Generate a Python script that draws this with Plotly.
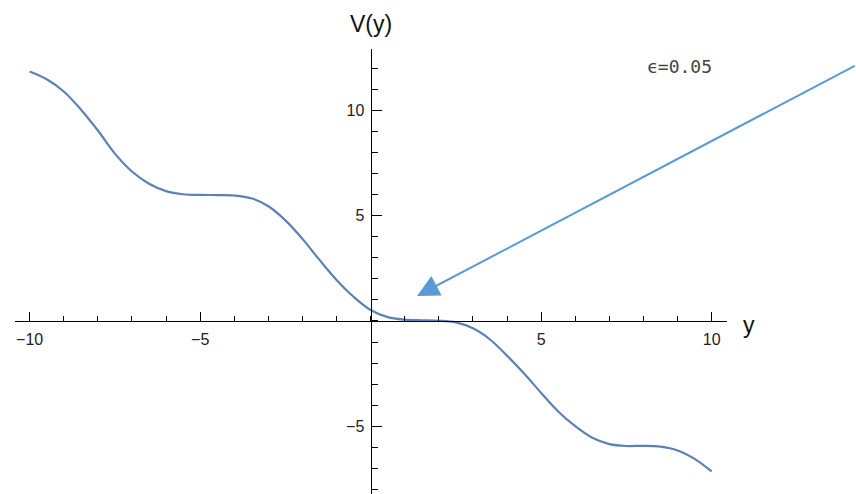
import plotly.graph_objects as go

# Data
y_vals = [-10.0, -9.5, -9.0, -8.5, -8.0, -7.5, -7.0, -6.5, -6.0, -5.5, -5.0,
          -4.5, -4.0, -3.5, -3.0, -2.5, -2.0, -1.5, -1.0, -0.5, 0.0,
          0.5, 1.0, 1.5, 2.0, 2.5, 3.0, 3.5, 4.0, 4.5, 5.0,
          5.5, 6.0, 6.5, 7.0, 7.5, 8.0, 8.5, 9.0, 9.5, 10.0]
V_vals = [11.85, 11.48, 10.9, 10.05, 9.05, 7.95, 7.1, 6.52, 6.17, 6.02, 5.99,
          5.98, 5.96, 5.83, 5.45, 4.78, 3.9, 2.9, 1.95, 1.15, 0.52,
          0.18, 0.06, 0.03, 0.01, -0.07, -0.35, -0.88, -1.65, -2.5, -3.42,
          -4.3, -5.0, -5.55, -5.85, -5.94, -5.93, -5.97, -6.15, -6.55, -7.15]

x_ticks = [-10, -5, 5, 10]
y_ticks = [-5, 5, 10]
label_text = "ϵ=0.05"

x_range = [-10.43, 10.45]
y_range = [-8.22, 12.92]


def px(v):
    return (v - x_range[0]) / (x_range[1] - x_range[0])


def py(v):
    return (v - y_range[0]) / (y_range[1] - y_range[0])


fig = go.Figure()
fig.add_trace(go.Scatter(
    x=y_vals, y=V_vals, mode="lines",
    line=dict(color="#5E81B5", width=2.2, shape="spline", smoothing=1.0),
    showlegend=False, hoverinfo="skip",
))

tick_font = dict(family="Liberation Sans, Arial, sans-serif", size=16, color="#222222")
label_font = dict(family="Liberation Sans, Arial, sans-serif", size=23, color="#111111")

fig.update_layout(
    width=856, height=494,
    margin=dict(l=15, r=129, t=49, b=0),
    paper_bgcolor="white", plot_bgcolor="white",
    xaxis=dict(
        range=x_range, anchor="free", position=py(0),
        showgrid=False, zeroline=False,
        showline=True, linecolor="black", linewidth=1.3,
        tickvals=x_ticks, ticks="inside", ticklen=9, tickwidth=1.2, tickcolor="black",
        tickfont=tick_font, ticklabelstandoff=4,
        minor=dict(dtick=1, tick0=0, ticks="inside", ticklen=5, tickwidth=1.1,
                   tickcolor="black", showgrid=False),
    ),
    yaxis=dict(
        range=y_range, anchor="free", position=px(0),
        showgrid=False, zeroline=False,
        showline=True, linecolor="black", linewidth=1.3,
        tickvals=y_ticks, ticks="inside", ticklen=10, tickwidth=1.2, tickcolor="black",
        tickfont=tick_font, ticklabelstandoff=3,
        minor=dict(dtick=1, tick0=0, ticks="inside", ticklen=6, tickwidth=1.1,
                   tickcolor="black", showgrid=False),
    ),
    annotations=[
        dict(x=px(0), y=py(14.1), xref="paper", yref="paper", text="V(y)", showarrow=False,
             font=label_font, xanchor="center", yanchor="middle"),
        dict(x=px(11.09), y=py(-0.2), xref="paper", yref="paper", text="y", showarrow=False,
             font=label_font, xanchor="center", yanchor="middle"),
        dict(x=px(9.07), y=py(12.11), xref="paper", yref="paper", text=label_text,
             showarrow=False,
             font=dict(family="DejaVu Sans Mono, monospace", size=18, color="#444444"),
             xanchor="center", yanchor="middle"),
        dict(x=1.36, y=1.19, xref="x", yref="y",
             ax=14.24, ay=12.16, axref="x", ayref="y",
             text="", showarrow=True, arrowhead=2, arrowsize=2.2, arrowwidth=2,
             arrowcolor="#5B9BD5", standoff=0),
    ],
)

fig.write_html("out.html")
